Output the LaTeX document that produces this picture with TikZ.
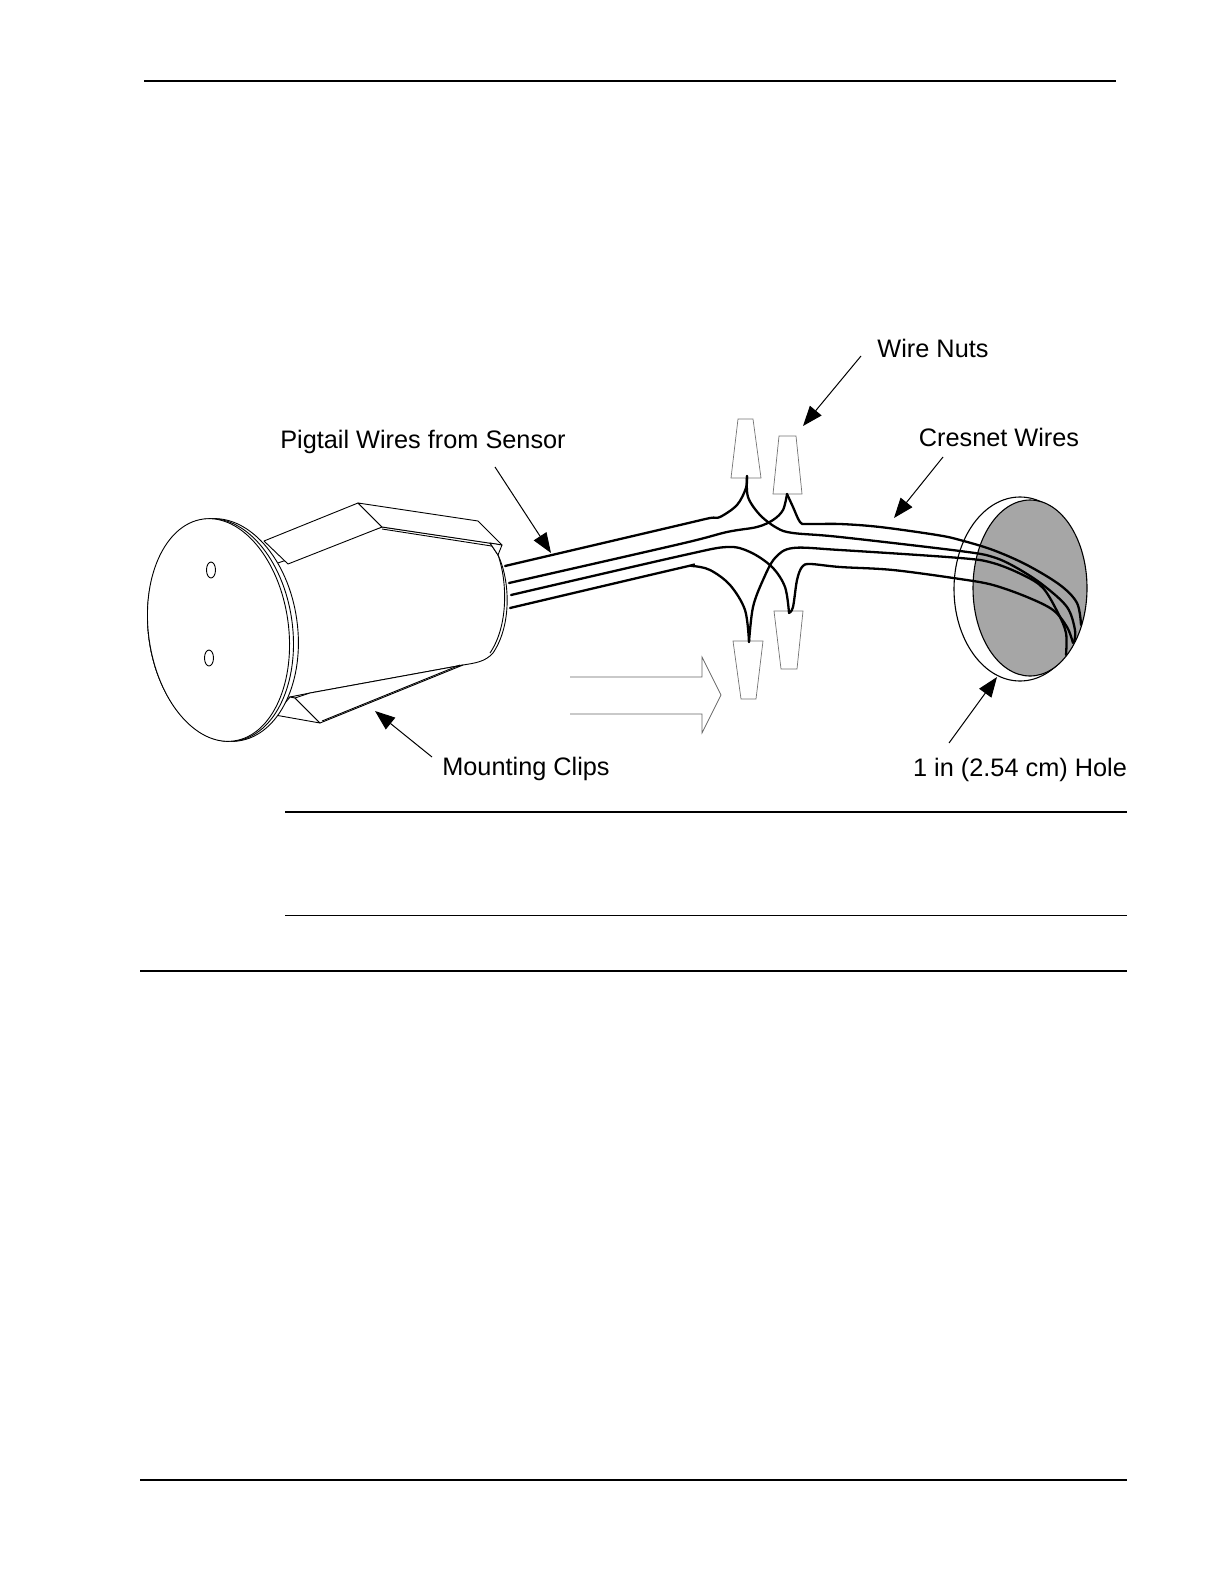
\documentclass[tikz,border=0pt]{standalone}
\usepackage{fontspec}
\setmainfont{Liberation Sans}
\usetikzlibrary{arrows.meta}
\tikzset{
	x=1pt, y=-1pt, % one unit is one pixel of the page, y downwards
	label/.style={font=\fontsize{25.3}{30}\selectfont, inner sep=0pt}, % the callout texts
	leader/.style={-{Triangle[length=20pt,width=15pt]}, line width=1pt}, % arrows from the callouts
	rule/.style={line width=1.3pt}, % page rules
	part/.style={line width=0.9pt, line join=round, fill=white}, % sensor outlines
	wire/.style={line width=2.3pt, line cap=round}, % the conductors
	nut/.style={draw=black!55, line width=0.7pt, fill=white}, % wire nuts
}
\begin{document}
\begin{tikzpicture}
	\path[use as bounding box] (0,0) rectangle (1224,1584);
	% page rules
	\draw[rule, line width=1.8pt] (144,81) -- (1116,81);
	\draw[rule] (285,812) -- (1127,812);
	\draw[rule, line width=0.9pt] (285,915) -- (1127,915);
	\draw[rule] (140,971) -- (1127,971);
	\draw[rule] (140,1480) -- (1127,1480);

	% hole in the wall
	\draw[line width=1.1pt, fill=white] (1020,589) ellipse [x radius=66, y radius=92];
	\draw[line width=1.1pt, fill=black!35] (1030,588) ellipse [x radius=57, y radius=88];

	% sensor body and lower clip
	\draw[part] (275,564) -- (382,527) -- (490,543) -- (498,555)
		.. controls (510,580) and (512,625) .. (493,653)
		.. controls (485,662) and (475,663) .. (463,665)
		-- (310,693) -- (290,697) -- (275,697) -- cycle;
	\draw[part] (498,555) .. controls (507,580) and (509,625) .. (490,653);
	\draw[part] (275,715) -- (320,723) -- (295,698) -- (290,697) -- cycle;
	\draw[part] (320,723) -- (463,665) -- (310,693) -- (295,698) -- cycle;
	\draw[part] (322,721) -- (460,665);

	% flange and face
	\draw[part] (223,630) ellipse [x radius=74.5, y radius=112, rotate=8];
	\draw[part] (220.5,630) ellipse [x radius=72, y radius=112, rotate=8];
	\draw[part] (218.5,630) ellipse [x radius=70, y radius=112, rotate=8];
	\draw[part] (211,570) ellipse [x radius=4.5, y radius=8];
	\draw[part] (209,658) ellipse [x radius=4.5, y radius=8];

	% upper clip lies over the flange
	\draw[part] (264,541) -- (358,503) -- (382,527) -- (288,564) -- cycle;
	\draw[part] (358,503) -- (478,521) -- (502,545) -- (382,527) -- cycle;
	\draw[part] (382,529) -- (498,547);
	\draw[part] (490,543) -- (502,545) -- (498,555) -- cycle;

	% wire nuts
	\draw[nut] (738,419) -- (753,419) -- (761,478) -- (731,478) -- cycle;
	\draw[nut] (779,436) -- (796,436) -- (802,494) -- (773,494) -- cycle;
	\draw[nut] (733,641) -- (763,641) -- (756,699) -- (741,699) -- cycle;
	\draw[nut] (774,611) -- (803,611) -- (797,669) -- (781,669) -- cycle;
	\coordinate (tip1) at (747,476);
	\coordinate (tip2) at (787,494);
	\coordinate (tip3) at (749,642);
	\coordinate (tip4) at (789,613);

	% pigtails, sensor to nut
	\draw[wire] plot[smooth, tension=0.55] coordinates {(505,566) (680,525) (710,518) (720,517) (737,505) (746,488) (tip1)};
	\draw[wire] plot[smooth, tension=0.55] coordinates {(509,583) (680,544) (727,532) (757,527) (773,520) (783,510) (tip2)};
	\draw[wire] plot[smooth, tension=0.55] coordinates {(511,595) (680,556) (727,547) (750,552) (772,567) (785,587) (tip4)};
	\draw[wire] plot[smooth, tension=0.55] coordinates {(510,608) (680,568) (692,566) (710,570) (730,585) (745,610) (tip3)};

	% cresnet wires, nut to hole
	\draw[wire] plot[smooth, tension=0.55] coordinates {(tip1) (748,497) (760,515) (777,528) (793,533) (840,537) (960,551) (993,557) (1017,568) (1043,585) (1067,607) (1075,630) (1074,642)};
	\draw[wire] plot[smooth, tension=0.55] coordinates {(tip2) (793,507) (800,522) (807,524) (840,524) (880,527) (937,535) (960,540) (993,550) (1027,565) (1060,585) (1077,603) (1081,625)};
	\draw[wire] plot[smooth, tension=0.55] coordinates {(tip3) (753,607) (763,580) (775,558) (793,548) (840,550) (960,558) (993,563) (1023,575) (1043,588) (1058,613) (1066,633) (1066,655)};
	\draw[wire] plot[smooth, tension=0.55] coordinates {(tip4) (793,607) (797,580) (802,567) (810,564) (840,567) (893,570) (960,579) (993,585) (1027,597) (1053,610) (1067,627) (1073,643)};

	% hollow arrow
	\draw[draw=black!60, line width=0.7pt] (570,677) -- (702,677) -- (702,657) -- (721,695) -- (702,733) -- (702,714) -- (570,714);

	% callouts
	\node[label] (nuts) at (933,348) {Wire Nuts};
	\node[label] (pigtail) at (423,442) {Pigtail Wires from Sensor};
	\node[label] (cresnet) at (999,437) {Cresnet Wires};
	\node[label] (clips) at (526,769) {Mounting Clips};
	\node[label] (hole) at (1020,770) {1 in (2.54 cm) Hole};
	\coordinate (nutsfrom) at (861,356);
	\coordinate (nutsto) at (803,426);
	\coordinate (pigtailfrom) at (495,467);
	\coordinate (pigtailto) at (551,553);
	\coordinate (cresnetfrom) at (943,457);
	\coordinate (cresnetto) at (894,518);
	\coordinate (clipsfrom) at (432,757);
	\coordinate (clipsto) at (375,711);
	\coordinate (holefrom) at (949,743);
	\coordinate (holeto) at (997,677);
	\draw[leader] (nutsfrom) -- (nutsto);
	\draw[leader] (pigtailfrom) -- (pigtailto);
	\draw[leader] (cresnetfrom) -- (cresnetto);
	\draw[leader] (clipsfrom) -- (clipsto);
	\draw[leader] (holefrom) -- (holeto);
\end{tikzpicture}
\end{document}
